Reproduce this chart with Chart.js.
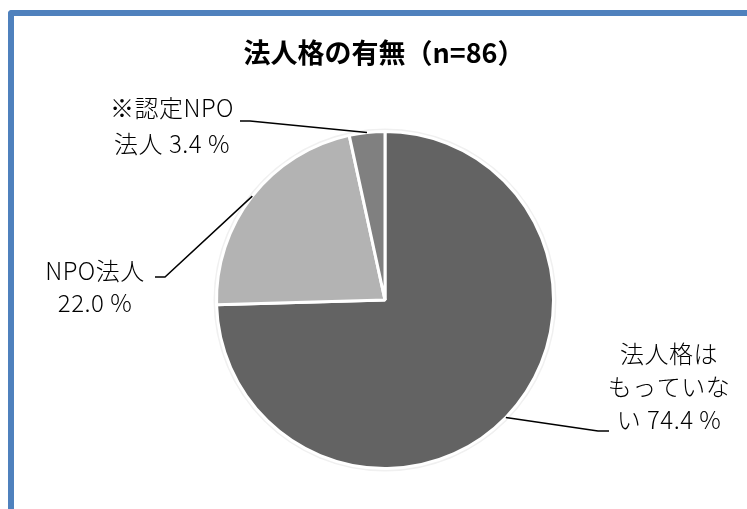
<!DOCTYPE html>
<html><head><meta charset="utf-8">
<script src="https://cdn.jsdelivr.net/npm/chart.js@4/dist/chart.umd.min.js"></script>
<style>
html,body{margin:0;padding:0;background:#fff;}
#wrap{position:relative;width:747px;height:509px;overflow:hidden;}
#frame{position:absolute;left:8px;top:10px;width:800px;height:600px;border-left:6px solid #4f81bd;border-top:6px solid #4f81bd;border-top-left-radius:4px;box-sizing:border-box;}
canvas{position:absolute;left:0;top:0;}
</style></head>
<body><div id="wrap"><div id="frame"></div><canvas id="c" width="747" height="509"></canvas></div>
<script>
const titleText = '法人格の有無（n=86）';
const categories = ['法人格はもっていない', 'NPO法人', '※認定NPO法人'];
const values = [74.4, 22.0, 3.4];
const colors = ['#636363', '#b3b3b3', '#808080'];
// label text lines; {v} is replaced by the value
const labelLines = [
  ['法人格は', 'もっていな', 'い {v}'],
  ['NPO法人', '{v}'],
  ['※認定NPO', '法人 {v}']
];

const labelLayout = [
  {cx: 669, y0: 354, lh: 33, elbow: [598, 431], end: [609, 431]},
  {cx: 95, y0: 271, lh: 32, elbow: [165, 277], end: [155, 277]},
  {cx: 172, y0: 108, lh: 36, elbow: [250, 121], end: [240, 121]}
];
const FONT = '"Noto Sans CJK JP", "Noto Sans", sans-serif';

const deco = {
  id: 'deco',
  beforeDatasetsDraw(chart) {
    const arc = chart.getDatasetMeta(0).data[0];
    if (!arc) return;
    const ctx = chart.ctx;
    ctx.save();
    ctx.beginPath();
    ctx.arc(arc.x, arc.y, arc.outerRadius + 3, 0, Math.PI * 2);
    ctx.fillStyle = '#f0f0f0';
    ctx.fill();
    ctx.restore();
  },
  afterDraw(chart) {
    const ctx = chart.ctx;
    ctx.save();
    ctx.fillStyle = '#000';
    ctx.textAlign = 'center';
    ctx.textBaseline = 'middle';
    ctx.font = 'bold 27px ' + FONT;
    ctx.fillText(titleText, 384, 53);
    const meta = chart.getDatasetMeta(0);
    meta.data.forEach((arc, i) => {
      const L = labelLayout[i];
      const p = arc.getProps(['x', 'y', 'startAngle', 'endAngle', 'outerRadius']);
      const mid = (p.startAngle + p.endAngle) / 2;
      const sx = p.x + Math.cos(mid) * p.outerRadius;
      const sy = p.y + Math.sin(mid) * p.outerRadius;
      ctx.beginPath();
      ctx.moveTo(sx, sy);
      ctx.lineTo(L.elbow[0], L.elbow[1]);
      ctx.lineTo(L.end[0], L.end[1]);
      ctx.strokeStyle = '#000';
      ctx.lineWidth = 1.5;
      ctx.stroke();
      ctx.font = '300 24px ' + FONT;
      if ('letterSpacing' in ctx) ctx.letterSpacing = '0.5px';
      ctx.fillStyle = '#000';
      labelLines[i].forEach((t, j) => {
        const s = t.replace('{v}', values[i].toFixed(1) + ' %');
        ctx.fillText(s, L.cx, L.y0 + j * L.lh);
      });
      if ('letterSpacing' in ctx) ctx.letterSpacing = '0px';
    });
    ctx.restore();
  }
};

new Chart(document.getElementById('c'), {
  type: 'pie',
  data: {
    labels: categories,
    datasets: [{
      data: values,
      backgroundColor: colors,
      borderColor: '#ffffff',
      borderWidth: 3
    }]
  },
  options: {
    responsive: false,
    animation: false,
    layout: {padding: {left: 215, right: 192, top: 130, bottom: 39}},
    plugins: {legend: {display: false}, tooltip: {enabled: false}, title: {display: false}}
  },
  plugins: [deco]
});
</script></body></html>
